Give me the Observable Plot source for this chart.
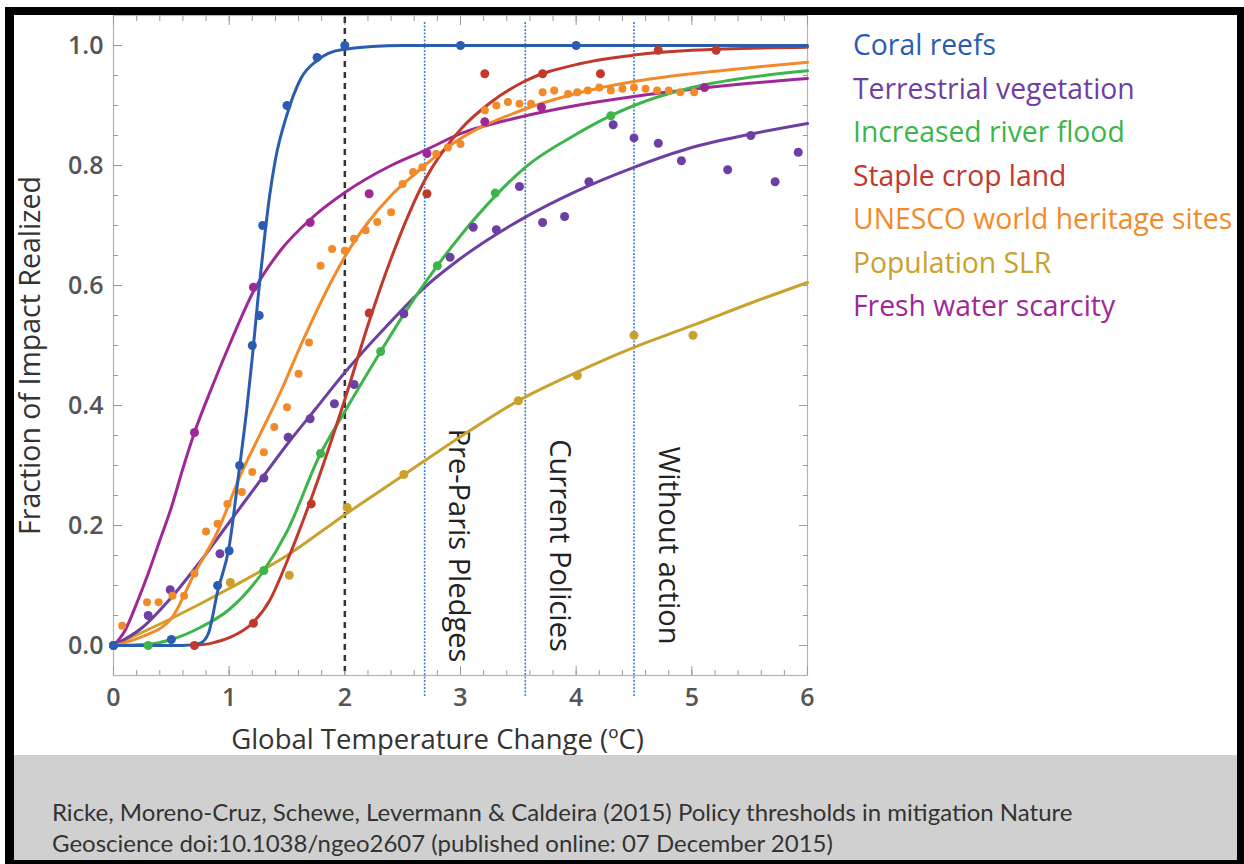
<!DOCTYPE html>
<html><head><meta charset="utf-8">
<script src="https://cdn.jsdelivr.net/npm/d3@7"></script>
<script src="https://cdn.jsdelivr.net/npm/@observablehq/plot@0.6"></script>
<style>
html,body{margin:0;padding:0;background:#fff;}
#box{position:absolute;left:5px;top:7px;width:1223px;height:845px;border-style:solid;border-color:#000;border-width:8px 7px 4px 9px;overflow:hidden;background:#fff;}
#chart{position:absolute;left:0;top:0;}
#legend{position:absolute;left:839px;top:8px;font-family:"Open Sans";font-size:28.3px;line-height:43.5px;white-space:nowrap;}
#caption{position:absolute;left:0;top:740px;width:1223px;height:105px;background:#d0d0d0;}
#caption div{position:absolute;left:38px;font-family:Lato;font-size:24px;line-height:30px;color:#333;white-space:nowrap;}
</style></head><body>
<div id="box"><div id="chart"></div><div id="legend"></div>
<div id="caption"><div id="cap1" style="top:42px"></div><div id="cap2" style="top:73px"></div></div></div>
<script>
const seriesNames = ["Coral reefs","Terrestrial vegetation","Increased river flood","Staple crop land","UNESCO world heritage sites","Population SLR","Fresh water scarcity"];
const seriesColors = ["#2a5db0","#6d3fa3","#3db54a","#c0392b","#f28a2a","#c9a12c","#a02896"];

const coralDots = [[0,0],[0.5,0.01],[0.9,0.10],[1.0,0.158],[1.09,0.30],[1.2,0.50],[1.26,0.55],[1.29,0.70],[1.5,0.90],[1.76,0.98],[2.0,1.0],[3.0,1.0],[4.0,1.0]];
const coralCurve = [[0,0],[0.6,0],[0.75,0.004],[0.82,0.02],[0.9,0.09],[1.0,0.165],[1.085,0.29],[1.15,0.39],[1.2,0.48],[1.25,0.58],[1.3,0.67],[1.35,0.75],[1.4,0.81],[1.5,0.885],[1.62,0.945],[1.76,0.975],[1.97,0.993],[2.5,1.0],[3,1.0],[6,1.0]];

const vegetationDots = [[0.3,0.05],[0.49,0.093],[0.92,0.153],[1.3,0.279],[1.51,0.347],[1.7,0.378],[1.91,0.403],[2.08,0.435],[2.51,0.553],[2.91,0.647],[3.11,0.697],[3.31,0.693],[3.51,0.765],[3.71,0.705],[3.9,0.715],[4.11,0.773],[4.32,0.868],[4.5,0.846],[4.71,0.837],[4.91,0.808],[5.31,0.793],[5.51,0.85],[5.72,0.773],[5.92,0.822]];
const vegetationCurve = [[0,0],[0.25,0.03],[0.5,0.08],[0.75,0.14],[1.0,0.205],[1.25,0.27],[1.5,0.335],[1.75,0.395],[2.0,0.455],[2.35,0.53],[2.69,0.597],[3.0,0.645],[3.56,0.714],[4.0,0.757],[4.5,0.797],[5.0,0.83],[5.5,0.852],[6.0,0.87]];

const floodDots = [[0.3,0],[1.3,0.125],[1.79,0.32],[2.31,0.49],[2.8,0.633],[3.3,0.754],[4.3,0.883]];
const floodCurve = [[0,0],[0.3,0.002],[0.5,0.01],[0.75,0.03],[1.0,0.06],[1.3,0.125],[1.5,0.19],[1.79,0.32],[2.0,0.39],[2.31,0.49],[2.5,0.549],[2.8,0.633],[3.0,0.683],[3.3,0.749],[3.56,0.797],[4.0,0.852],[4.3,0.883],[4.5,0.90],[5.0,0.93],[5.5,0.947],[6.0,0.958]];

const cropDots = [[0.7,0],[1.21,0.037],[1.71,0.236],[2.21,0.554],[2.71,0.753],[3.21,0.953],[3.71,0.953],[4.21,0.953],[4.71,0.992],[5.21,0.992]];
const cropCurve = [[0.7,0],[0.85,0.004],[1.0,0.013],[1.2,0.037],[1.35,0.075],[1.5,0.14],[1.71,0.245],[2.0,0.41],[2.21,0.54],[2.4,0.645],[2.69,0.775],[3.0,0.86],[3.26,0.905],[3.55,0.94],[4.04,0.97],[4.5,0.984],[5.0,0.992],[6.0,0.997]];

const unescoDots = [[0,0],[0.075,0.033],[0.29,0.072],[0.39,0.072],[0.51,0.083],[0.61,0.083],[0.70,0.12],[0.80,0.19],[0.90,0.203],[0.985,0.236],[1.11,0.256],[1.20,0.289],[1.30,0.322],[1.39,0.364],[1.50,0.397],[1.60,0.453],[1.69,0.505],[1.79,0.633],[1.89,0.661],[2.0,0.658],[2.08,0.678],[2.18,0.692],[2.28,0.706],[2.40,0.722],[2.50,0.769],[2.59,0.789],[2.67,0.797],[2.79,0.819],[2.89,0.83],[3.0,0.836],[3.21,0.892],[3.31,0.90],[3.41,0.906],[3.51,0.903],[3.61,0.903],[3.71,0.922],[3.81,0.925],[3.93,0.919],[4.01,0.922],[4.1,0.925],[4.2,0.93],[4.3,0.925],[4.4,0.928],[4.5,0.93],[4.6,0.928],[4.7,0.925],[4.8,0.925],[4.9,0.922],[5.02,0.922]];
const unescoCurve = [[0,0],[0.25,0.015],[0.5,0.045],[0.7,0.12],[0.9,0.19],[1.1,0.285],[1.27,0.353],[1.45,0.425],[1.63,0.505],[1.9,0.613],[2.0,0.648],[2.2,0.705],[2.4,0.75],[2.6,0.785],[2.69,0.80],[3.0,0.845],[3.5,0.89],[4.0,0.92],[4.5,0.94],[5.0,0.953],[5.5,0.963],[6.0,0.972]];

const slrDots = [[0,0],[1.01,0.105],[1.52,0.117],[2.02,0.23],[2.51,0.285],[3.5,0.408],[4.01,0.45],[4.5,0.517],[5.01,0.517]];
const slrCurve = [[0,0],[0.5,0.045],[1.0,0.095],[1.5,0.15],[2.0,0.218],[2.5,0.283],[3.0,0.348],[3.5,0.408],[4.0,0.455],[4.5,0.497],[5.0,0.533],[5.5,0.57],[6.0,0.605]];

const waterDots = [[0,0],[0.7,0.355],[1.21,0.597],[1.7,0.705],[2.21,0.753],[2.71,0.82],[3.21,0.873],[3.7,0.897],[5.11,0.93]];
const waterCurve = [[0,0],[0.1,0.025],[0.2,0.07],[0.3,0.12],[0.4,0.175],[0.5,0.23],[0.6,0.295],[0.7,0.355],[0.85,0.43],[1.0,0.5],[1.21,0.59],[1.45,0.66],[1.7,0.71],[2.0,0.755],[2.4,0.80],[2.69,0.825],[3.0,0.853],[3.5,0.88],[4.0,0.9],[4.5,0.915],[5.0,0.927],[5.5,0.937],[6.0,0.945]];

const policyTemps = [2.69, 3.56, 4.5];
const policyLabels = ["Pre-Paris Pledges", "Current Policies", "Without action"];
const targetTemp = [2];

const xMajor = [0,1,2,3,4,5,6];
const xMinor = d3.range(0, 6.001, 0.2);
const yMajor = [0,0.2,0.4,0.6,0.8,1.0];
const yMinor = d3.range(0, 1.0001, 0.05);

const xLabel = "Global Temperature Change (ºC)";
const yLabel = "Fraction of Impact Realized";
const caption1 = "Ricke, Moreno-Cruz, Schewe, Levermann & Caldeira (2015) Policy thresholds in mitigation Nature";
const caption2 = "Geoscience doi:10.1038/ngeo2607 (published online: 07 December 2015)";

const curves = [coralCurve, vegetationCurve, floodCurve, cropCurve, unescoCurve, slrCurve, waterCurve];
const dotsets = [coralDots, vegetationDots, floodDots, cropDots, unescoDots, slrDots, waterDots];
const drawOrder = [5, 1, 6, 2, 4, 3, 0];

const policies = policyTemps.map((t, i) => ({t, label: policyLabels[i]}));
const tickStroke = "#9a9a9a";

const marks = [
  Plot.frame({stroke: "#b4b4b4", strokeWidth: 1.2}),
  Plot.axisX({ticks: xMajor, anchor: "bottom", tickSize: -9, fill: "none", stroke: tickStroke, label: null}),
  Plot.axisX({ticks: xMinor, anchor: "bottom", tickSize: -5, fill: "none", stroke: tickStroke, label: null}),
  Plot.axisX({ticks: xMajor, anchor: "top", tickSize: -9, fill: "none", stroke: tickStroke, label: null}),
  Plot.axisX({ticks: xMinor, anchor: "top", tickSize: -5, fill: "none", stroke: tickStroke, label: null}),
  Plot.axisY({ticks: yMajor, anchor: "left", tickSize: -9, fill: "none", stroke: tickStroke, label: null}),
  Plot.axisY({ticks: yMinor, anchor: "left", tickSize: -5, fill: "none", stroke: tickStroke, label: null}),
  Plot.axisY({ticks: yMajor, anchor: "right", tickSize: -9, fill: "none", stroke: tickStroke, label: null}),
  Plot.axisY({ticks: yMinor, anchor: "right", tickSize: -5, fill: "none", stroke: tickStroke, label: null}),
  Plot.axisX({ticks: xMajor, anchor: "bottom", tickSize: 0, tickPadding: 13, tickFormat: d3.format("d"), fontSize: 25, fontWeight: 600, fill: "#555", label: null}),
  Plot.axisY({ticks: yMajor, anchor: "left", tickSize: 0, tickPadding: 10, tickFormat: d3.format(".1f"), fontSize: 25, fontWeight: 600, fill: "#555", label: null}),
  Plot.text([xLabel], {frameAnchor: "bottom", dx: -23, dy: 65, fontSize: 27.5, fill: "#333", lineAnchor: "middle", textAnchor: "middle"}),
  Plot.text([yLabel], {frameAnchor: "left", rotate: -90, dx: -83, dy: 10, fontSize: 28.5, fill: "#333", lineAnchor: "middle", textAnchor: "middle"}),
  Plot.ruleX(policies, {x: "t", stroke: "#3f7fd6", strokeWidth: 1.6, strokeDasharray: "2,1.5", insetTop: 7, insetBottom: -22}),
  Plot.ruleX(targetTemp, {stroke: "#333", strokeWidth: 2.5, strokeDasharray: "6,5", insetTop: 2, insetBottom: 4}),
  Plot.text(policies, {x: "t", text: "label", frameAnchor: "bottom", dx: 34, dy: -130, rotate: 90, fontSize: 29, fill: "#222", lineAnchor: "middle", textAnchor: "middle"})
];
for (const i of drawOrder) {
  marks.push(Plot.line(curves[i], {x: d => d[0], y: d => d[1], stroke: seriesColors[i], strokeWidth: 3, curve: "monotone-x"}));
}
for (const i of drawOrder) {
  marks.push(Plot.dot(dotsets[i], {x: d => d[0], y: d => d[1], fill: seriesColors[i], r: i === 4 ? 4 : 4.5}));
}

const chart = Plot.plot({
  width: 1223, height: 740,
  marginLeft: 99, marginRight: 430, marginTop: 0, marginBottom: 80,
  x: {domain: [0, 6]},
  y: {domain: [-0.05, 1.05]},
  style: {fontFamily: "Open Sans", background: "transparent", overflow: "visible"},
  marks
});
document.getElementById("chart").appendChild(chart);

const legend = document.getElementById("legend");
seriesNames.forEach((n, i) => {
  const d = document.createElement("div");
  d.textContent = n;
  d.style.color = seriesColors[i];
  legend.appendChild(d);
});
document.getElementById("cap1").textContent = caption1;
document.getElementById("cap2").textContent = caption2;
</script>
</body></html>
